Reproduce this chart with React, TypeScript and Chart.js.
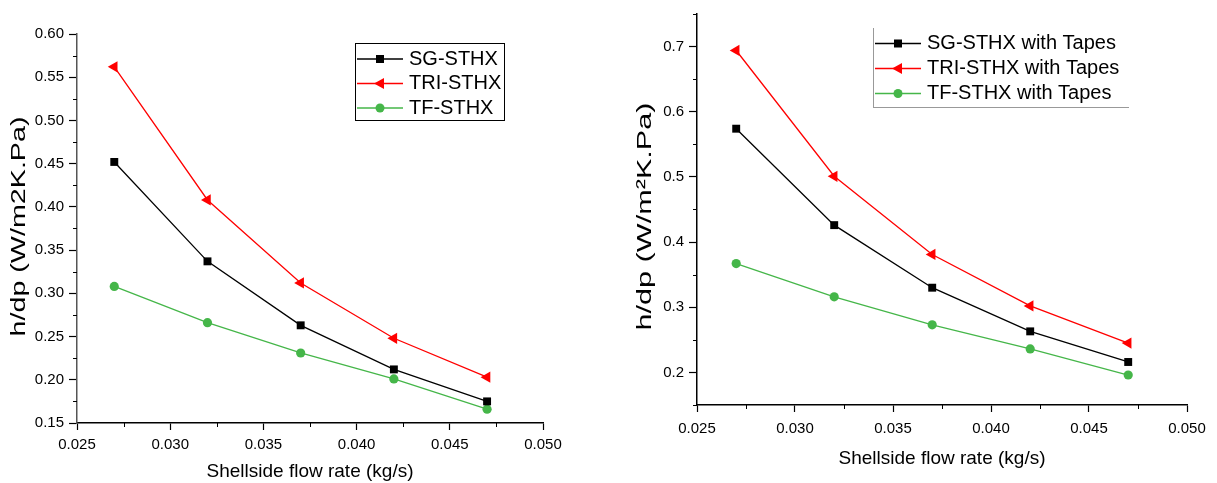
import React, { useEffect, useRef } from "react";
import { Chart, registerables } from "chart.js";

Chart.register(...registerables);

const flowRates = [0.027, 0.032, 0.037, 0.042, 0.047];
const xTickValues = [0.025, 0.03, 0.035, 0.04, 0.045, 0.05];

const leftLabels = ["SG-STHX", "TRI-STHX", "TF-STHX"];
const leftSG = [0.452, 0.337, 0.263, 0.212, 0.175];
const leftTRI = [0.562, 0.408, 0.312, 0.248, 0.203];
const leftTF = [0.308, 0.266, 0.231, 0.201, 0.166];
const leftYTicks = [0.15, 0.2, 0.25, 0.3, 0.35, 0.4, 0.45, 0.5, 0.55, 0.6];

const rightLabels = ["SG-STHX with Tapes", "TRI-STHX with Tapes", "TF-STHX with Tapes"];
const rightSG = [0.574, 0.426, 0.33, 0.263, 0.216];
const rightTRI = [0.694, 0.501, 0.381, 0.302, 0.245];
const rightTF = [0.367, 0.316, 0.273, 0.236, 0.196];
const rightYTicks = [0.2, 0.3, 0.4, 0.5, 0.6, 0.7];
const rightYMinor = [0.15, 0.25, 0.35, 0.45, 0.55, 0.65, 0.75];

const FONT = "Arial, 'Liberation Sans', sans-serif";
const COLORS = ["#000000", "#ff0000", "#45b649"];
const STYLES = ["rect", "triangle", "circle"];

const minorTicksPlugin = {
  id: "minorTicks",
  afterDraw(chart: any, _args: any, opts: any) {
    const ctx = chart.ctx;
    ctx.save();
    ctx.strokeStyle = "#000";
    ctx.lineWidth = 1;
    const xs = chart.scales.x;
    const ys = chart.scales.y;
    (opts.x || []).forEach((v: number) => {
      const p = Math.round(xs.getPixelForValue(v)) + 0.5;
      ctx.beginPath();
      ctx.moveTo(p, xs.top);
      ctx.lineTo(p, xs.top + 4);
      ctx.stroke();
    });
    (opts.y || []).forEach((v: number) => {
      const p = Math.round(ys.getPixelForValue(v)) + 0.5;
      ctx.beginPath();
      ctx.moveTo(ys.right, p);
      ctx.lineTo(ys.right - 4, p);
      ctx.stroke();
    });
    ctx.restore();
  },
};

const yTitlePlugin = {
  id: "yTitle",
  afterDraw(chart: any, _args: any, opts: any) {
    const ctx = chart.ctx;
    const area = chart.chartArea;
    ctx.save();
    ctx.font = `${opts.fontSize}px ${FONT}`;
    ctx.fillStyle = "#000";
    ctx.textAlign = "center";
    ctx.textBaseline = "middle";
    const w = ctx.measureText(opts.text).width;
    const sx = opts.length / w;
    ctx.translate(opts.x, (area.top + area.bottom) / 2 + opts.dy);
    ctx.rotate(-Math.PI / 2);
    ctx.scale(sx, 1);
    ctx.fillText(opts.text, 0, 0);
    ctx.restore();
  },
};

function drawMarker(ctx: any, style: string, x: number, y: number, color: string) {
  ctx.fillStyle = color;
  ctx.beginPath();
  if (style === "rect") {
    ctx.rect(x - 4, y - 4, 8, 8);
  } else if (style === "triangle") {
    ctx.moveTo(x - 6, y);
    ctx.lineTo(x + 4, y - 5.5);
    ctx.lineTo(x + 4, y + 5.5);
    ctx.closePath();
  } else {
    ctx.arc(x, y, 4.5, 0, Math.PI * 2);
  }
  ctx.fill();
}

const legendPlugin = {
  id: "boxLegend",
  afterDraw(chart: any, _args: any, opts: any) {
    const ctx = chart.ctx;
    ctx.save();
    ctx.strokeStyle = opts.borderColor;
    ctx.lineWidth = 1;
    const { x, y, w, h, rowH, sides } = opts;
    ctx.beginPath();
    if (sides.includes("t")) { ctx.moveTo(x, y + 0.5); ctx.lineTo(x + w, y + 0.5); }
    if (sides.includes("r")) { ctx.moveTo(x + w - 0.5, y); ctx.lineTo(x + w - 0.5, y + h); }
    if (sides.includes("b")) { ctx.moveTo(x, y + h - 0.5); ctx.lineTo(x + w, y + h - 0.5); }
    if (sides.includes("l")) { ctx.moveTo(x + 0.5, y); ctx.lineTo(x + 0.5, y + h); }
    ctx.stroke();
    ctx.font = `${opts.fontSize}px ${FONT}`;
    ctx.textBaseline = "middle";
    chart.data.datasets.forEach((ds: any, i: number) => {
      const cy = y + opts.firstRow + i * rowH;
      ctx.strokeStyle = ds.borderColor;
      ctx.lineWidth = 1.5;
      ctx.beginPath();
      ctx.moveTo(x + 2, cy);
      ctx.lineTo(x + 48, cy);
      ctx.stroke();
      drawMarker(ctx, STYLES[i], x + 25, cy, ds.borderColor);
      ctx.fillStyle = "#000";
      ctx.fillText(ds.label, x + 54, cy);
    });
    ctx.restore();
  },
};

function makeConfig(
  labels: string[],
  series: number[][],
  yMin: number,
  yMax: number,
  yTicks: number[],
  yMinor: number[],
  yDigits: number,
  dims: any,
  legend: any,
  yTitle: any
) {
  const xMinor = xTickValues.slice(0, -1).map((v, i) => (v + xTickValues[i + 1]) / 2);
  return {
    type: "line" as const,
    data: {
      datasets: series.map((vals, i) => ({
        label: labels[i],
        data: flowRates.map((x, j) => ({ x, y: vals[j] })),
        borderColor: COLORS[i],
        backgroundColor: COLORS[i],
        borderWidth: 1.3,
        pointStyle: STYLES[i],
        pointRotation: i === 1 ? -90 : 0,
        pointRadius: i === 0 ? 5.6 : i === 1 ? 6.5 : 4.6,
        pointBorderWidth: 0,
        tension: 0,
      })),
    },
    options: {
      animation: false,
      responsive: false,
      maintainAspectRatio: false,
      layout: { padding: dims.padding },
      plugins: {
        legend: { display: false },
        tooltip: { enabled: false },
        minorTicks: { x: xMinor, y: yMinor },
        boxLegend: legend,
        yTitle: yTitle,
      },
      scales: {
        x: {
          type: "linear",
          min: 0.025,
          max: 0.05,
          afterBuildTicks: (s: any) => { s.ticks = xTickValues.map((v) => ({ value: v })); },
          afterFit: (s: any) => { s.height = dims.xHeight; },
          ticks: {
            callback: (v: any) => Number(v).toFixed(3),
            font: { size: 15, family: FONT },
            color: "#000",
            padding: dims.xTickPad,
            maxRotation: 0,
            autoSkip: false,
          },
          grid: { drawOnChartArea: false, drawTicks: true, tickLength: 7, tickColor: "#000", tickWidth: 1.2 },
          border: { display: true, color: "#000", width: 1.5 },
          title: {
            display: true,
            text: "Shellside flow rate (kg/s)",
            font: { size: 19, family: FONT },
            color: "#000",
            padding: { top: 0, bottom: dims.xTitlePad },
          },
        },
        y: {
          type: "linear",
          min: yMin,
          max: yMax,
          afterBuildTicks: (s: any) => { s.ticks = yTicks.map((v) => ({ value: v })); },
          afterFit: (s: any) => { s.width = dims.yWidth; },
          ticks: {
            callback: (v: any) => Number(v).toFixed(yDigits),
            font: { size: 15, family: FONT },
            color: "#000",
            padding: 5,
            autoSkip: false,
          },
          grid: { drawOnChartArea: false, drawTicks: true, tickLength: 8, tickColor: "#000", tickWidth: 1.2 },
          border: { display: true, color: dims.yAxisColor, width: 1.5 },
          title: { display: false },
        },
      },
    },
    plugins: [minorTicksPlugin, legendPlugin, yTitlePlugin],
  };
}

function Panel({ config, left, width }: { config: any; left: number; width: number }) {
  const ref = useRef<HTMLCanvasElement>(null);
  useEffect(() => {
    const chart = new Chart(ref.current as HTMLCanvasElement, config);
    return () => chart.destroy();
  }, []);
  return (
    <canvas
      ref={ref}
      width={width}
      height={483}
      style={{ position: "absolute", left, top: 0, width, height: 483 }}
    />
  );
}

export default function App() {
  const leftConfig = makeConfig(
    leftLabels,
    [leftSG, leftTRI, leftTF],
    0.15,
    0.6,
    leftYTicks,
    leftYTicks.slice(0, -1).map((v, i) => (v + leftYTicks[i + 1]) / 2),
    2,
    {
      padding: { left: 0, top: 34, right: 57, bottom: 0 },
      xHeight: 60,
      yWidth: 77,
      xTitlePad: 0,
      xTickPad: 6,
      yAxisColor: "#555",
    },
    { x: 355, y: 43, w: 150, h: 78, rowH: 24.5, firstRow: 16, fontSize: 20, borderColor: "#000", sides: "trbl" },
    { text: "h/dp (W/m2K.Pa)", fontSize: 20, length: 220, x: 19, dy: -2 }
  );
  const rightConfig = makeConfig(
    rightLabels,
    [rightSG, rightTRI, rightTF],
    0.15,
    0.75,
    rightYTicks,
    rightYMinor,
    1,
    {
      padding: { left: 0, top: 12, right: 30, bottom: 0 },
      xHeight: 78,
      yWidth: 80,
      xTitlePad: 13,
      xTickPad: 8,
      yAxisColor: "#000",
    },
    { x: 256, y: 28, w: 256, h: 80, rowH: 25, firstRow: 15.5, fontSize: 20, borderColor: "#999", sides: "lb" },
    { text: "h/dp (W/m²K.Pa)", fontSize: 20, length: 228, x: 28, dy: 7 }
  );
  return (
    <div style={{ position: "absolute", left: 0, top: 0, width: 1217, height: 483, background: "#fff" }}>
      <Panel config={leftConfig} left={0} width={600} />
      <Panel config={rightConfig} left={617} width={600} />
    </div>
  );
}
